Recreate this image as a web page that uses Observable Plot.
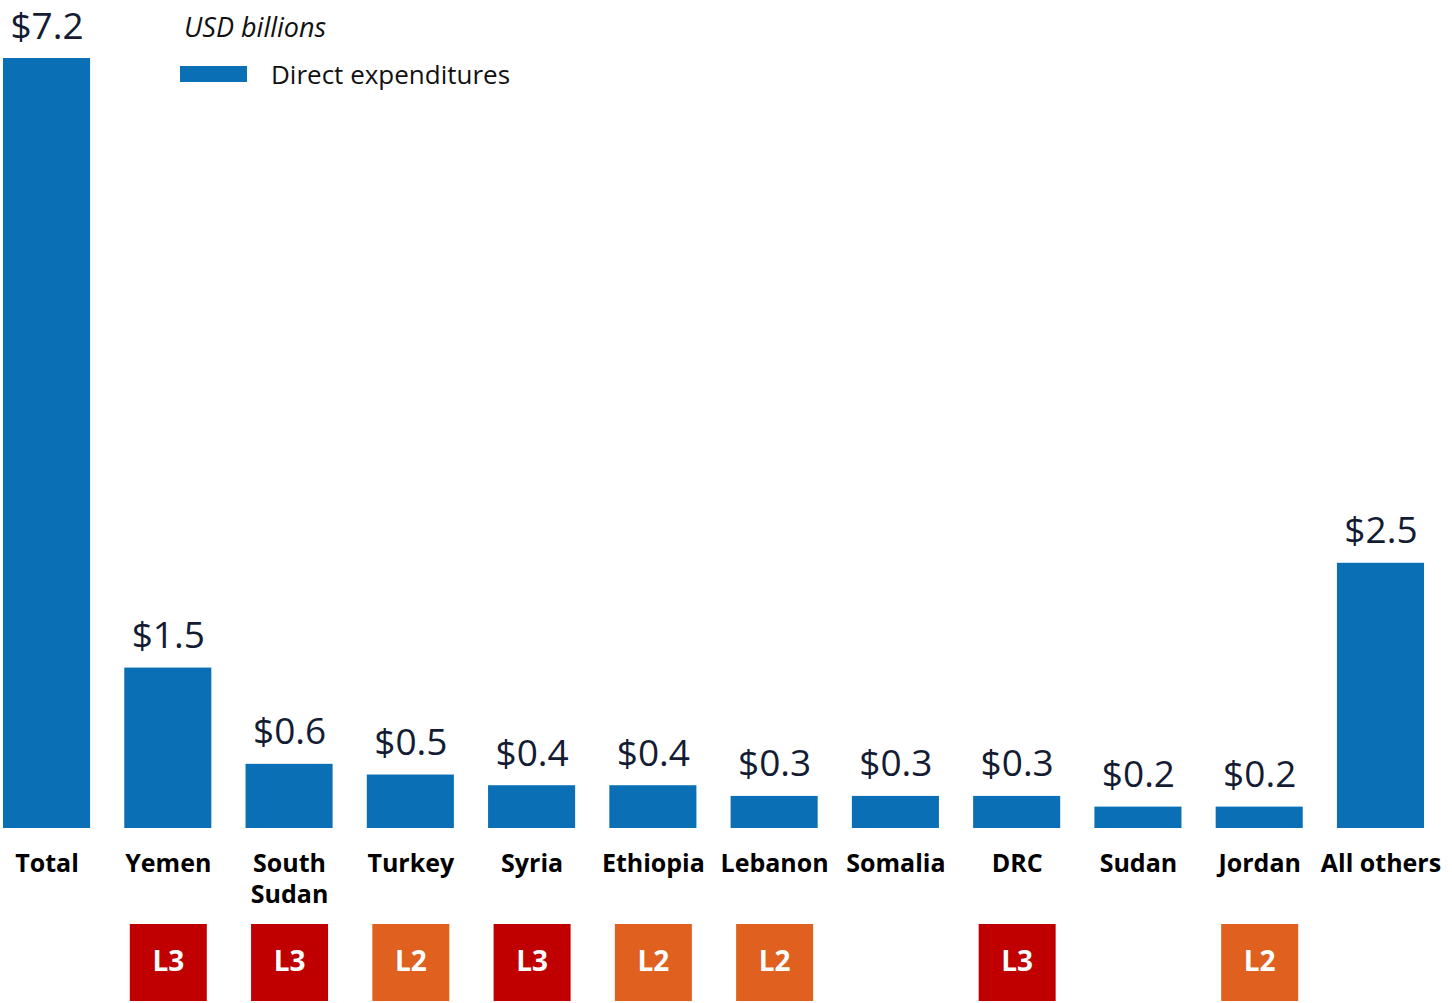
<!DOCTYPE html>
<html>
<head>
<meta charset="utf-8">
<script src="https://cdn.jsdelivr.net/npm/d3@7"></script>
<script src="https://cdn.jsdelivr.net/npm/@observablehq/plot@0.6"></script>
<style>
  body { margin: 0; background: #fff; font-family: "Open Sans", sans-serif; }
  #wrap { position: relative; width: 1452px; height: 1003px; overflow: hidden; }
  #chart svg { display: block; }
  .unit { position: absolute; left: 184px; top: 8px; font-size: 27px; font-style: italic; color: #111; white-space: nowrap; }
  .legend { position: absolute; left: 180px; top: 56px; display: flex; align-items: center; font-size: 26px; color: #111; white-space: nowrap; }
  .swatch { width: 67px; height: 16px; background: #0b6fb6; margin-right: 24px; }
</style>
</head>
<body>
<div id="wrap">
  <div id="chart"></div>
  <div class="unit">USD billions</div>
  <div class="legend"><span class="swatch"></span><span>Direct expenditures</span></div>
</div>
<script>
const categories = ["Total", "Yemen", "South Sudan", "Turkey", "Syria", "Ethiopia", "Lebanon", "Somalia", "DRC", "Sudan", "Jordan", "All others"];
const tickLabels = ["Total", "Yemen", "South\nSudan", "Turkey", "Syria", "Ethiopia", "Lebanon", "Somalia", "DRC", "Sudan", "Jordan", "All others"];
const values = [7.2, 1.5, 0.6, 0.5, 0.4, 0.4, 0.3, 0.3, 0.3, 0.2, 0.2, 2.48];
const valueLabels = ["$7.2", "$1.5", "$0.6", "$0.5", "$0.4", "$0.4", "$0.3", "$0.3", "$0.3", "$0.2", "$0.2", "$2.5"];
const levels = ["", "L3", "L3", "L2", "L3", "L2", "L2", "", "L3", "", "L2", ""];

const data = categories.map((c, i) => ({
  category: c, value: values[i], label: valueLabels[i], tick: tickLabels[i], level: levels[i]
}));
const badges = data.filter(d => d.level);

const chart = Plot.plot({
  width: 1452,
  height: 1003,
  marginLeft: 3,
  marginRight: 28,
  marginTop: 58,
  marginBottom: 175,
  style: { fontFamily: "Open Sans, sans-serif", background: "white", overflow: "visible" },
  x: { domain: categories, paddingInner: 0.282, paddingOuter: 0, round: false, axis: null },
  y: { domain: [0, 7.2], axis: null },
  color: { domain: ["L3", "L2"], range: ["#c00000", "#e06020"] },
  marks: [
    Plot.barY(data, { x: "category", y: "value", fill: "#0b6fb6" }),
    Plot.text(data, { x: "category", y: "value", text: "label", lineAnchor: "bottom", dy: -20, fontSize: 37, fill: "#141c33" }),
    Plot.text(data, { x: "category", text: "tick", frameAnchor: "bottom", lineAnchor: "top", dy: 21, fontSize: 25, fontWeight: "bold", fill: "#000", lineHeight: 1.25 }),
    Plot.dot(badges, { x: "category", frameAnchor: "bottom", dy: 134, symbol: "square", r: 43.44, fill: "level", stroke: null }),
    Plot.text(badges, { x: "category", frameAnchor: "bottom", lineAnchor: "middle", dy: 134, text: "level", fill: "white", fontSize: 28, fontWeight: "bold" })
  ]
});
document.getElementById("chart").appendChild(chart);
</script>
</body>
</html>
